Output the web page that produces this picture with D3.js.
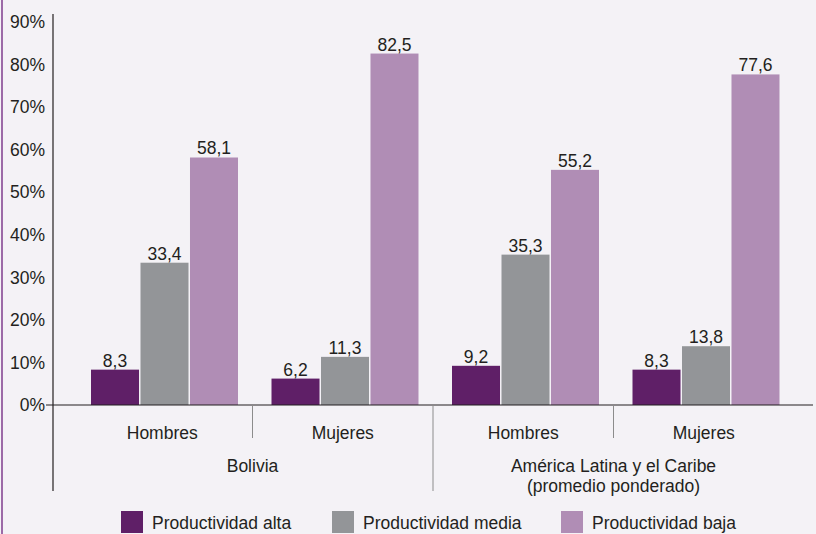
<!DOCTYPE html>
<html><head><meta charset="utf-8">
<script src="https://cdn.jsdelivr.net/npm/d3@7/dist/d3.min.js"></script>
<style>
html,body{margin:0;padding:0;background:#f4f2f6;}
svg{display:block;font-family:"Liberation Sans",Arial,Helvetica,sans-serif;}
</style></head><body>
<svg id="c" width="816" height="534"></svg>
<script>
const groups = ["Bolivia|Hombres","Bolivia|Mujeres","ALC|Hombres","ALC|Mujeres"];
const subLabels = ["Hombres","Mujeres","Hombres","Mujeres"];
const regionLabels = [["Bolivia"],["América Latina y el Caribe","(promedio ponderado)"]];
const seriesNames = ["Productividad alta","Productividad media","Productividad baja"];
const alta = [8.3, 6.2, 9.2, 8.3];
const media = [33.4, 11.3, 35.3, 13.8];
const baja = [58.1, 82.5, 55.2, 77.6];
const yTicks = [0,10,20,30,40,50,60,70,80,90];
const colors = ["#5f1f67","#939598","#b08db5"];

const FS = 17.5;
const svg = d3.select("#c");
const fmt = v => String(v).replace(".", ",");
const y = d3.scaleLinear().domain([0,90]).range([405,21.6]);
const x0 = d3.scaleBand().domain(groups).range([72,794]).paddingInner(0).paddingOuter(0);
const x1 = d3.scaleBand().domain(seriesNames).range([19,166]).paddingInner(0.03);
const data = [alta, media, baja];

svg.append("rect").attr("x",0).attr("y",0).attr("width",816).attr("height",534).attr("fill","#f4f2f6");
svg.append("line").attr("x1",2).attr("x2",2).attr("y1",0).attr("y2",534).attr("stroke","#9c6aa7").attr("stroke-width",2);

// y axis labels
const ya = svg.append("g");
ya.selectAll("text").data(yTicks).join("text")
  .attr("x",45).attr("y",d=>y(d)).attr("dy","0.36em").attr("text-anchor","end")
  .attr("font-size",FS).attr("fill","#231f20").text(d=>d+"%");

// bars
groups.forEach((g,gi)=>{
  seriesNames.forEach((s,si)=>{
    const v = data[si][gi];
    const bx = x0(g)+x1(s);
    svg.append("rect").attr("x",bx).attr("y",y(v)).attr("width",x1.bandwidth()).attr("height",y(0)-y(v)).attr("fill",colors[si]);
    svg.append("text").attr("x",bx+x1.bandwidth()/2).attr("y",y(v)-3).attr("text-anchor","middle")
      .attr("font-size",FS).attr("fill","#231f20").text(fmt(v));
  });
});

// axes lines
svg.append("line").attr("x1",53).attr("x2",53).attr("y1",14).attr("y2",491).attr("stroke","#231f20").attr("stroke-width",1.2);
svg.append("line").attr("x1",46).attr("x2",813).attr("y1",y(0)).attr("y2",y(0)).attr("stroke","#231f20").attr("stroke-width",1.2);

// separators
groups.forEach((g,gi)=>{
  if(gi===0) return;
  const sx = x0(g);
  const long = gi===2;
  svg.append("line").attr("x1",sx).attr("x2",sx).attr("y1",y(0)+1).attr("y2",long?491:438).attr("stroke","#8c8c8c").attr("stroke-width",1);
});

// sub labels
groups.forEach((g,gi)=>{
  svg.append("text").attr("x",x0(g)+x0.bandwidth()/2).attr("y",439).attr("text-anchor","middle")
    .attr("font-size",FS).attr("fill","#231f20").text(subLabels[gi]);
});
regionLabels.forEach((lines,ri)=>{
  const cx = (x0(groups[ri*2]) + x0(groups[ri*2+1]) + x0.bandwidth())/2;
  lines.forEach((t,li)=>{
    svg.append("text").attr("x",cx).attr("y",472+li*20).attr("text-anchor","middle")
      .attr("font-size",FS).attr("fill","#231f20").text(t);
  });
});

// legend
const legX = [121,332,561];
seriesNames.forEach((s,si)=>{
  svg.append("rect").attr("x",legX[si]).attr("y",511).attr("width",22).attr("height",22).attr("fill",colors[si]);
  svg.append("text").attr("x",legX[si]+31).attr("y",529).attr("font-size",FS).attr("fill","#231f20").text(s);
});
</script>
</body></html>
